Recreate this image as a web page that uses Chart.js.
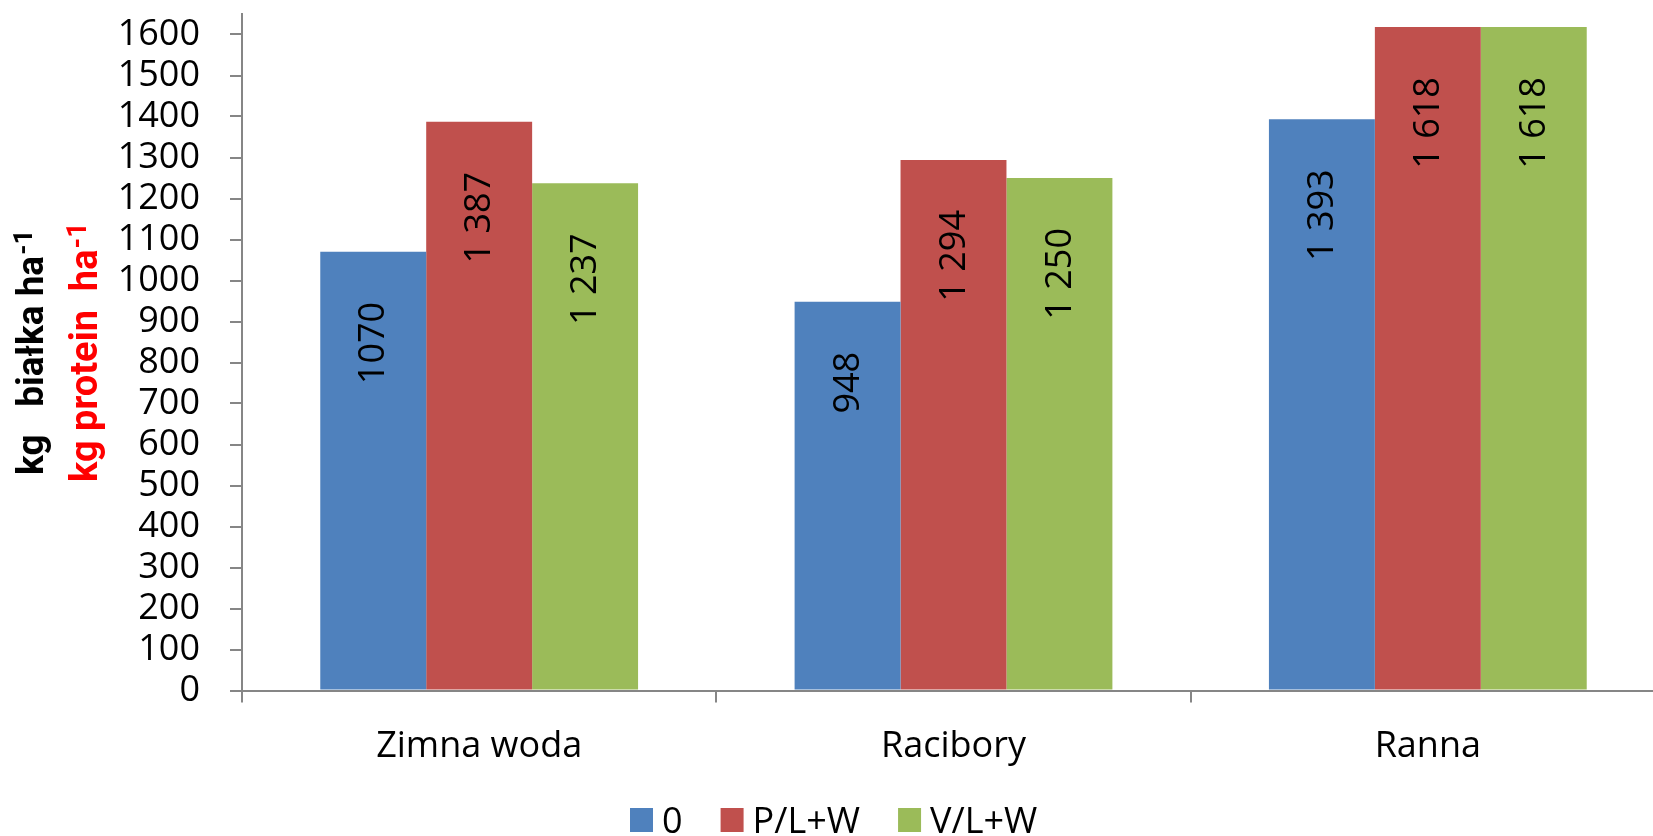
<!DOCTYPE html>
<html>
<head>
<meta charset="utf-8">
<script src="https://cdn.jsdelivr.net/npm/chart.js@4.4.1/dist/chart.umd.min.js"></script>
<style>
  html, body { margin: 0; padding: 0; background: #fff; overflow: hidden; }
  #wrap { width: 1665px; height: 836px; }
</style>
</head>
<body>
<div id="wrap"><canvas id="chart"></canvas></div>
<script>
// data
const sites = ['Zimna woda', 'Racibory', 'Ranna'];
const seriesNames = ['0', 'P/L+W', 'V/L+W'];
const control = [1070, 948, 1393];
const plw = [1387, 1294, 1618];
const vlw = [1237, 1250, 1618];
const controlLabels = ['1070', '948', '1 393'];
const plwLabels = ['1 387', '1 294', '1 618'];
const vlwLabels = ['1 237', '1 250', '1 618'];
const yTicks = [0, 100, 200, 300, 400, 500, 600, 700, 800, 900, 1000, 1100, 1200, 1300, 1400, 1500, 1600];
const yMax = 1650;

const colors = ['#4F81BD', '#C0504D', '#9BBB59'];
const axisColor = '#868686';
const font = '"Open Sans", "Noto Sans", sans-serif';

function drawTitleLine(ctx, x, y, text, sup, size, color) {
    ctx.save();
    ctx.translate(x, y);
    ctx.rotate(-Math.PI / 2);
    ctx.fillStyle = color;
    ctx.textAlign = 'left';
    ctx.textBaseline = 'alphabetic';
    ctx.font = `bold ${size}px Roboto, "Liberation Sans", sans-serif`;
    ctx.fillText(text, 0, 0);
    const w = ctx.measureText(text).width;
    ctx.font = `bold ${Math.round(size * 0.7)}px Roboto, "Liberation Sans", sans-serif`;
    ctx.fillText(sup, w + 1, -11);
    ctx.restore();
}

const extras = {
    id: 'extras',
    afterDatasetsDraw(chart) {
        const ctx = chart.ctx;
        ctx.save();
        ctx.font = `36px ${font}`;
        ctx.fillStyle = '#000';
        chart.data.datasets.forEach((ds, i) => {
            const meta = chart.getDatasetMeta(i);
            meta.data.forEach((bar, j) => {
                ctx.save();
                ctx.translate(bar.x + 1, bar.y + 50);
                ctx.rotate(-Math.PI / 2);
                ctx.textAlign = 'right';
                ctx.textBaseline = 'middle';
                ctx.fillText(ds.valueLabels[j], 0, 0);
                ctx.restore();
            });
        });
        ctx.restore();
    },
    afterDraw(chart) {
        const ctx = chart.ctx;

        // y axis titles (polish + english)
        drawTitleLine(ctx, 43, 475, 'kg   białka ha', '-1', 37, '#000000');
        drawTitleLine(ctx, 97, 482, 'kg protein  ha', '-1', 38, '#FF0000');

        // legend
        ctx.save();
        ctx.font = `36px ${font}`;
        const box = 23, gapText = 9, gapItem = 38;
        let x = 630;
        seriesNames.forEach((name, i) => {
            ctx.fillStyle = colors[i];
            ctx.fillRect(x, 808, box, 24);
            ctx.fillStyle = '#000';
            ctx.textAlign = 'left';
            ctx.textBaseline = 'alphabetic';
            ctx.fillText(name, x + box + gapText, 833);
            x += box + gapText + ctx.measureText(name).width + gapItem;
        });
        ctx.restore();
    }
};

const datasets = [control, plw, vlw].map((vals, i) => ({
    label: seriesNames[i],
    data: vals,
    backgroundColor: colors[i],
    borderWidth: 0,
    valueLabels: [controlLabels, plwLabels, vlwLabels][i]
}));

new Chart(document.getElementById('chart'), {
    type: 'bar',
    data: { labels: sites, datasets: datasets },
    options: {
        responsive: true,
        maintainAspectRatio: false,
        animation: false,
        layout: { padding: { top: 14, left: 0, right: 0, bottom: 0 } },
        plugins: { legend: { display: false }, tooltip: { enabled: false } },
        datasets: { bar: { categoryPercentage: 0.67, barPercentage: 1 } },
        scales: {
            x: {
                grid: { offset: true, drawOnChartArea: false, tickLength: 12, color: axisColor, lineWidth: 2 },
                border: { color: axisColor, width: 2 },
                ticks: { font: { family: font, size: 36 }, color: '#000', padding: 23 },
                afterFit(scale) {
                    scale.height = 145.5;
                    scale.paddingLeft = 0;
                    scale.paddingRight = 0;
                }
            },
            y: {
                min: 0,
                max: yMax,
                ticks: {
                    autoSkip: false,
                    font: { family: font, size: 36 },
                    color: '#000',
                    padding: 30,
                    callback: v => String(v)
                },
                afterBuildTicks(scale) { scale.ticks = yTicks.map(v => ({ value: v })); },
                grid: { drawOnChartArea: false, tickLength: 12, color: axisColor, lineWidth: 2 },
                border: { color: axisColor, width: 2 },
                afterFit(scale) {
                    scale.width = 242;
                    scale.paddingTop = 0;
                    scale.paddingBottom = 0;
                }
            }
        }
    },
    plugins: [extras]
});
</script>
</body>
</html>
